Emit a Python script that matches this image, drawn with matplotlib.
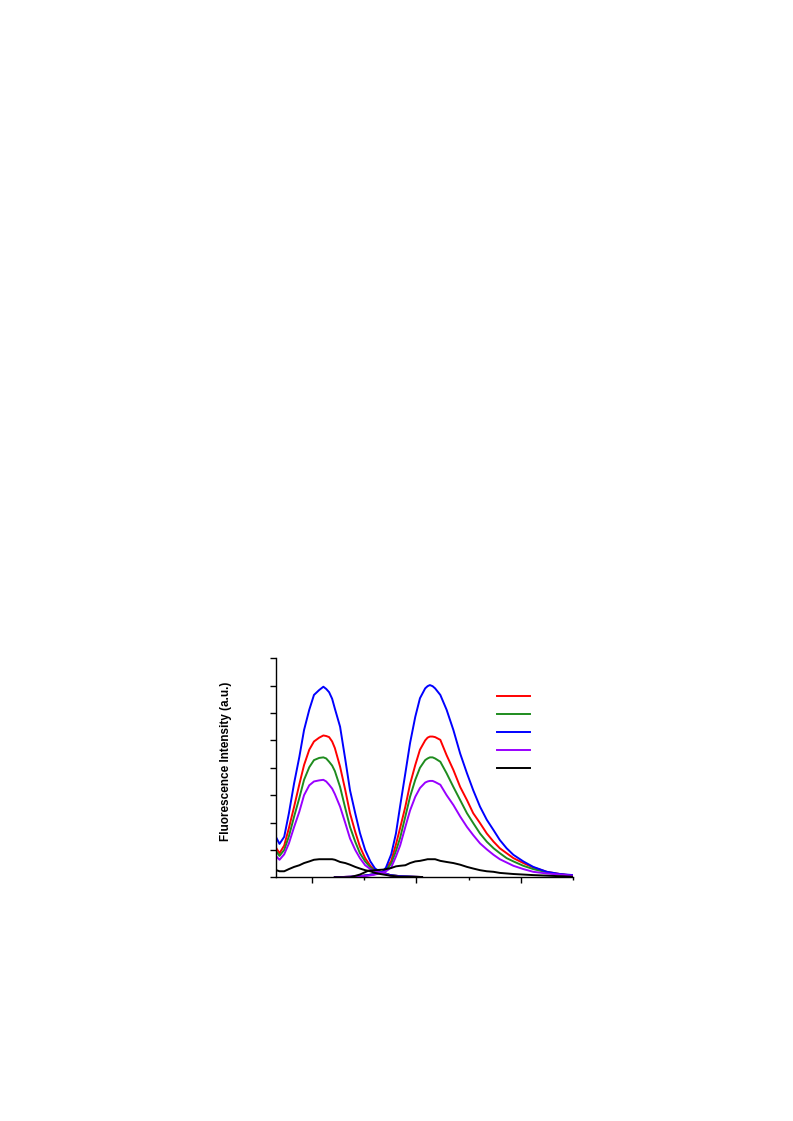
import numpy as np
import matplotlib
matplotlib.use('Agg')
import matplotlib.pyplot as plt
from matplotlib.ticker import MultipleLocator, NullFormatter

# 激发光谱 (excitation), 波长 nm
ex_wl = [366, 369, 373.5, 378, 383, 388, 392.5, 397.5, 402, 407, 411, 413.7, 416.5, 419.4,
         422, 427, 432, 436.5, 441.5, 446, 451, 456, 460.5, 465.5, 475, 484.5, 505.5]
ex_red = [0.53, 0.44, 0.58, 0.90, 1.29, 1.70, 2.05, 2.33, 2.48, 2.55, 2.59, 2.58, 2.56, 2.48,
          2.36, 2.02, 1.59, 1.17, 0.83, 0.56, 0.35, 0.21, 0.13, 0.10, 0.04, 0.02, 0.005]
ex_green = [0.47, 0.39, 0.50, 0.75, 1.11, 1.45, 1.78, 2.01, 2.14, 2.18, 2.19, 2.17, 2.11, 2.04,
            1.94, 1.65, 1.26, 0.92, 0.65, 0.44, 0.29, 0.18, 0.12, 0.10, 0.04, 0.02, 0.005]
ex_blue = [0.72, 0.61, 0.74, 1.17, 1.72, 2.20, 2.69, 3.06, 3.33, 3.42, 3.48, 3.44, 3.38, 3.26,
           3.08, 2.75, 2.15, 1.59, 1.17, 0.81, 0.50, 0.29, 0.16, 0.10, 0.04, 0.02, 0.005]
ex_purple = [0.38, 0.32, 0.42, 0.62, 0.92, 1.20, 1.50, 1.68, 1.75, 1.77, 1.78, 1.75, 1.69, 1.62,
             1.52, 1.29, 0.99, 0.71, 0.50, 0.35, 0.22, 0.15, 0.11, 0.09, 0.03, 0.01, 0.005]
ex_black = [0.13, 0.11, 0.11, 0.15, 0.19, 0.22, 0.26, 0.29, 0.32, 0.33, 0.33, 0.33, 0.33, 0.33,
            0.32, 0.28, 0.26, 0.23, 0.19, 0.16, 0.13, 0.11, 0.08, 0.06, 0.03, 0.01, 0.005]

# 发射光谱 (emission)
em_wl = [422, 436.5, 446, 454, 460.5, 468, 471, 476, 480.5, 484.5, 489.5, 494, 499,
         503.5, 508.5, 510.8, 513, 515.6, 518, 523, 529, 535.5, 542, 548.5, 554.5, 561,
         567.5, 574, 580, 586.5, 593, 602.5, 612, 625, 637.5, 650]
em_red = [0.00, 0.01, 0.02, 0.04, 0.06, 0.10, 0.15, 0.30, 0.60, 0.90, 1.29, 1.70, 2.05,
          2.33, 2.50, 2.55, 2.57, 2.57, 2.56, 2.51, 2.23, 1.96, 1.65, 1.41, 1.17, 0.99,
          0.80, 0.65, 0.53, 0.44, 0.35, 0.26, 0.18, 0.10, 0.06, 0.03]
em_green = [0.00, 0.01, 0.02, 0.04, 0.06, 0.10, 0.13, 0.25, 0.48, 0.72, 1.11, 1.47, 1.78,
            2.00, 2.14, 2.17, 2.19, 2.19, 2.17, 2.11, 1.90, 1.65, 1.41, 1.17, 0.99, 0.80,
            0.65, 0.53, 0.44, 0.35, 0.29, 0.21, 0.15, 0.09, 0.05, 0.03]
em_blue = [0.00, 0.01, 0.02, 0.04, 0.06, 0.10, 0.18, 0.42, 0.80, 1.30, 1.90, 2.45, 2.93,
           3.27, 3.45, 3.49, 3.51, 3.49, 3.45, 3.33, 3.06, 2.69, 2.26, 1.90, 1.59, 1.29,
           1.05, 0.86, 0.68, 0.53, 0.41, 0.29, 0.19, 0.10, 0.06, 0.04]
em_purple = [0.00, 0.01, 0.02, 0.03, 0.05, 0.09, 0.11, 0.18, 0.38, 0.58, 0.92, 1.22, 1.47,
             1.63, 1.73, 1.75, 1.76, 1.76, 1.74, 1.69, 1.50, 1.32, 1.11, 0.92, 0.77, 0.62,
             0.51, 0.41, 0.33, 0.27, 0.21, 0.15, 0.10, 0.07, 0.05, 0.03]
em_black = [0.00, 0.00, 0.05, 0.12, 0.13, 0.14, 0.15, 0.17, 0.20, 0.21, 0.22, 0.26, 0.29,
            0.30, 0.32, 0.33, 0.33, 0.33, 0.33, 0.30, 0.28, 0.26, 0.23, 0.19, 0.16, 0.13,
            0.11, 0.10, 0.08, 0.07, 0.06, 0.05, 0.04, 0.03, 0.02, 0.01]

colors = ['#ff0000', '#1e8c1e', '#0000ff', '#9900ff', '#000000']
ex_all = [ex_red, ex_green, ex_blue, ex_purple, ex_black]
em_all = [em_red, em_green, em_blue, em_purple, em_black]

fig = plt.figure(figsize=(7.93, 11.21), dpi=100)
ax = fig.add_axes([0.348, 0.2174, 0.3745, 0.1954])

handles = []
for c, ex, em in zip(colors, ex_all, em_all):
    h, = ax.plot(ex_wl, ex, color=c, lw=1.4)
    ax.plot(em_wl, em, color=c, lw=1.4)
    handles.append(h)

ax.set_xlim(365.6, 650)
ax.set_ylim(0, 4)
ax.spines['top'].set_visible(False)
ax.spines['right'].set_visible(False)
for s in ['left', 'bottom']:
    ax.spines[s].set_linewidth(1.0)

# 没有刻度标签
ax.xaxis.set_major_locator(MultipleLocator(100))
ax.xaxis.set_minor_locator(MultipleLocator(50))
ax.yaxis.set_major_locator(MultipleLocator(0.5))
ax.xaxis.set_major_formatter(NullFormatter())
ax.yaxis.set_major_formatter(NullFormatter())
ax.tick_params(which='major', direction='out', length=4.5, width=1.0)
ax.tick_params(axis='x', which='minor', direction='out', length=2.5, width=1.0)

ax.set_ylabel('Fluorescence Intensity (a.u.)', fontsize=8.5, fontweight='bold',
              family=['Liberation Sans', 'DejaVu Sans'])
ax.yaxis.set_label_coords(-0.148, 0.531)

ax.legend(handles=handles, labels=[' '] * 5, loc='upper left', bbox_to_anchor=(0.744, 0.855),
          frameon=False, fontsize=8.5, handlelength=2.8, labelspacing=0.43,
          borderpad=0, borderaxespad=0)

plt.savefig('out.png', dpi=100)
